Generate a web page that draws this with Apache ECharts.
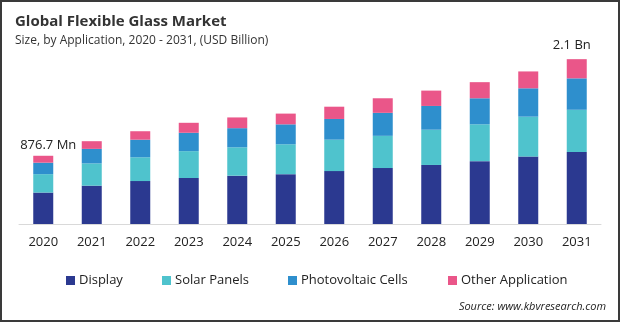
<!DOCTYPE html>
<html>
<head>
<meta charset="utf-8">
<script src="https://cdn.jsdelivr.net/npm/echarts@6/dist/echarts.min.js"></script>
<style>
html,body{margin:0;padding:0;background:#fff;}
#wrap{width:620px;height:322px;box-sizing:border-box;border:2px solid #3a3a3a;position:relative;overflow:hidden;}
#chart{position:absolute;left:-2px;top:-2px;width:620px;height:322px;}
</style>
</head>
<body>
<div id="wrap"><div id="chart"></div></div>
<script>
const years = ['2020','2021','2022','2023','2024','2025','2026','2027','2028','2029','2030','2031'];
const display = [0.41,0.50,0.56,0.60,0.63,0.65,0.69,0.73,0.77,0.82,0.88,0.94];
const solarPanels = [0.24,0.29,0.31,0.35,0.37,0.39,0.41,0.42,0.46,0.48,0.52,0.55];
const photovoltaicCells = [0.15,0.19,0.23,0.24,0.25,0.26,0.27,0.30,0.31,0.34,0.37,0.41];
const otherApplication = [0.09,0.10,0.11,0.13,0.14,0.14,0.16,0.19,0.20,0.21,0.22,0.25];
const seriesNames = ['Display','Solar Panels','Photovoltaic Cells','Other Application'];
const endLabels = {0:'876.7 Mn', 11:'2.1 Bn'};

const colors = ['#2B3990','#4FC3CD','#2E8FCD','#EA5689'];
const font = '"Open Sans", "Noto Sans", sans-serif';
const chart = echarts.init(document.getElementById('chart'));
const seriesData = [display, solarPanels, photovoltaicCells, otherApplication];

const series = seriesData.map((arr, si) => ({
  name: seriesNames[si],
  type: 'bar',
  stack: 'total',
  barWidth: 20,
  itemStyle: {color: colors[si]},
  data: arr.map((v, i) => {
    const d = {value: v};
    if (si === 3 && endLabels[i] !== undefined) {
      d.label = {
        show: true,
        position: 'top',
        formatter: endLabels[i],
        color: '#222',
        fontSize: 13,
        fontFamily: font,
        distance: i === 0 ? 4 : 7,
        offset: i === 0 ? [5, 0] : [-5, 0]
      };
    }
    return d;
  })
}));

const legendLefts = [61, 157, 283, 443];
const legends = seriesNames.map((n, i) => ({
  data: [n],
  left: legendLefts[i],
  top: 269,
  itemWidth: 9,
  itemHeight: 9,
  itemGap: 0,
  icon: 'rect',
  selectedMode: false,
  textStyle: {fontSize: 13, color: '#222', fontFamily: font, padding: [0,0,0,-1]}
}));

chart.setOption({
  animation: false,
  title: {
    text: 'Global Flexible Glass Market',
    subtext: 'Size, by Application, 2020 - 2031, (USD Billion)',
    left: 10,
    top: 9,
    itemGap: 6,
    textStyle: {fontSize: 15, fontWeight: 'bold', color: '#333', fontFamily: font},
    subtextStyle: {fontSize: 12, color: '#333', fontFamily: font}
  },
  legend: legends,
  grid: {left: 19, right: 19, top: 40, bottom: 98, containLabel: false},
  xAxis: {
    type: 'category',
    data: years,
    axisLine: {lineStyle: {color: '#d9d9d9'}},
    axisTick: {show: false},
    axisLabel: {color: '#222', fontSize: 13, margin: 12, fontFamily: font}
  },
  yAxis: {
    type: 'value',
    min: 0,
    max: 2.4,
    show: false,
    splitLine: {show: false}
  },
  graphic: [{
    type: 'text',
    right: 14,
    top: 301,
    style: {text: 'Source: www.kbvresearch.com', fontSize: 11, fontStyle: 'italic', fill: '#222', fontFamily: font}
  }],
  series: series
});
</script>
</body>
</html>
